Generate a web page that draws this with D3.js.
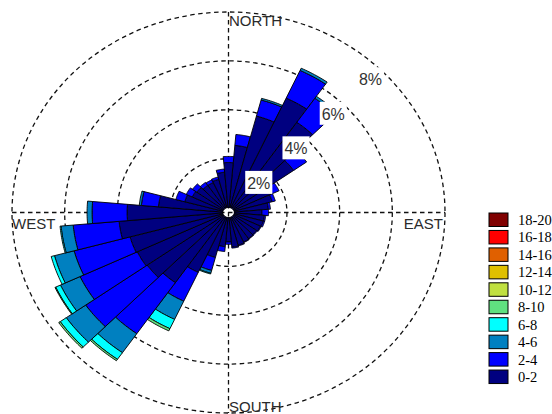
<!DOCTYPE html>
<html>
<head>
<meta charset="utf-8">
<script src="https://cdn.jsdelivr.net/npm/d3@7"></script>
<style>
  html, body { margin: 0; padding: 0; background: #fff; }
  svg { display: block; }
</style>
</head>
<body>
<svg id="rose" width="552" height="414"></svg>
<script>
// Wind direction bins (degrees, 10° sectors) and frequency (%) per speed band
const directions = [10, 20, 30, 40, 50, 60, 70, 80, 90, 100, 110, 120, 130, 140, 150, 160, 170, 180,
                    190, 200, 210, 220, 230, 240, 250, 260, 270, 280, 290, 300, 310, 320, 330, 340, 350, 360];

const freq0_2 = [2.55, 3.88, 4.96, 4.30, 2.80, 1.60, 1.50, 1.30, 1.05, 1.15, 1.15, 1.12, 1.08, 1.10, 1.13, 1.18, 1.22, 1.00,
                 1.20, 1.70, 2.50, 3.30, 3.55, 3.60, 3.65, 3.95, 3.63, 2.45, 1.50, 1.30, 1.25, 1.15, 1.15, 1.20, 1.45, 1.84];
const freq2_4 = [0.45, 0.68, 1.25, 1.20, 0.60, 0.30, 0.12, 0.08, 0.25, 0.05, 0.05, 0.03, 0.03, 0.02, 0.02, 0.03, 0.04, 0.10,
                 0.20, 0.55, 1.30, 2.55, 2.85, 2.40, 2.20, 1.75, 1.33, 0.65, 0.35, 0.25, 0.20, 0.15, 0.12, 0.10, 0.13, 0.25];
const freq4_6 = [0, 0.07, 0.10, 0.10, 0, 0, 0, 0, 0, 0, 0, 0, 0, 0, 0, 0, 0, 0,
                 0, 0.12, 0.82, 0.95, 0.90, 0.82, 0.77, 0.46, 0.19, 0.08, 0, 0, 0, 0, 0, 0, 0, 0];
const freq6_8 = [0, 0, 0, 0, 0, 0, 0, 0, 0, 0, 0, 0, 0, 0, 0, 0, 0, 0,
                 0, 0.03, 0.42, 0.33, 0.28, 0.20, 0.13, 0.04, 0, 0, 0, 0, 0, 0, 0, 0, 0, 0];
const freq8_10 = [0, 0, 0, 0, 0, 0, 0, 0, 0, 0, 0, 0, 0, 0, 0, 0, 0, 0,
                  0, 0, 0.10, 0.07, 0.07, 0.03, 0, 0, 0, 0, 0, 0, 0, 0, 0, 0, 0, 0];

// Speed bands (m/s) with their fill colours, lowest first
const speedBins = ["0-2", "2-4", "4-6", "6-8", "8-10", "10-12", "12-14", "14-16", "16-18", "18-20"];
const binColors = ["#000080", "#0000ff", "#0080c0", "#00ffff", "#60e080",
                   "#c0e040", "#e0c000", "#e06000", "#ff0000", "#800000"];

const pctTicks = [2, 4, 6, 8];
const compass = ["NORTH", "EAST", "SOUTH", "WEST"];

// ---------------------------------------------------------------
const svg = d3.select("#rose");
const cx = 228.5, cy = 212.5;
const rMax = 8;
// plot area is slightly wider than tall, so radial scales differ per axis
const sx = d3.scaleLinear().domain([0, rMax]).range([5.8, 216.5]);
const sy = d3.scaleLinear().domain([0, rMax]).range([5.0, 200.5]);
const rad = d => d * Math.PI / 180;
const pt = (r, a) => [cx + sx(r) * Math.sin(a), cy - sy(r) * Math.cos(a)];

// grid
const grid = svg.append("g")
  .attr("fill", "none").attr("stroke", "#111").attr("stroke-width", 1.3)
  .attr("stroke-dasharray", "4.5,3.5");
grid.selectAll("ellipse").data(pctTicks).join("ellipse")
  .attr("cx", cx).attr("cy", cy)
  .attr("rx", d => sx(d)).attr("ry", d => sy(d));
grid.append("line").attr("x1", cx - sx(rMax)).attr("x2", cx + sx(rMax)).attr("y1", cy).attr("y2", cy);
grid.append("line").attr("x1", cx).attr("x2", cx).attr("y1", cy - sy(rMax)).attr("y2", cy + sy(rMax));

// stacked petals
const series = [freq0_2, freq2_4, freq4_6, freq6_8, freq8_10];
const petals = [];
directions.forEach((dir, i) => {
  let acc = 0;
  series.forEach((s, k) => {
    const v = s[i];
    if (v > 0) petals.push({ dir, r0: acc, r1: acc + v, color: binColors[k] });
    acc += v;
  });
});

const half = 5;
function wedgePath(d) {
  const a0 = rad(d.dir - half), a1 = rad(d.dir + half), n = 12;
  const pts = [];
  for (let j = 0; j <= n; j++) pts.push(pt(d.r1, a0 + (a1 - a0) * j / n));
  for (let j = n; j >= 0; j--) pts.push(pt(d.r0, a0 + (a1 - a0) * j / n));
  return d3.line()(pts) + "Z";
}

svg.append("g").selectAll("path").data(petals).join("path")
  .attr("d", wedgePath)
  .attr("fill", d => d.color)
  .attr("stroke", "#000").attr("stroke-width", 0.9)
  .attr("stroke-linejoin", "miter");

// percentage labels along the 45° line
const pctG = svg.append("g");
pctTicks.forEach(t => {
  const [px, py] = pt(t, rad(45));
  const g = pctG.append("g");
  const txt = g.append("text")
    .attr("x", px + 0.5).attr("y", py + 14.5)
    .attr("text-anchor", "end")
    .attr("font-family", "Liberation Sans, Arial, sans-serif")
    .attr("font-size", 16).attr("fill", "#333")
    .text(t + "%");
  const bb = txt.node().getBBox();
  g.insert("rect", "text")
    .attr("x", bb.x - 2).attr("width", bb.width + 4)
    .attr("y", py + 14.5 - 18).attr("height", 23)
    .attr("fill", "#fff");
});

// compass labels
const labFont = "Liberation Sans, Arial, sans-serif";
const lab = svg.append("g").attr("font-family", labFont).attr("font-size", 15).attr("fill", "#2a2a2a");
lab.append("text").attr("x", cx + 0.5).attr("y", cy - sy(rMax) + 14).text(compass[0]);
lab.append("text").attr("x", cx + sx(rMax) - 2).attr("y", cy + 16).attr("text-anchor", "end").text(compass[1]);
lab.append("text").attr("x", cx + 0.5).attr("y", cy + sy(rMax) - 1.5).text(compass[2]);
lab.append("text").attr("x", cx - sx(rMax)).attr("y", cy + 16).text(compass[3]);

// legend, highest band on top
const legend = svg.append("g");
const legItems = speedBins.map((s, k) => ({ label: s, color: binColors[k] })).reverse();
const legTop = 213, legStep = 17.45;
const li = legend.selectAll("g").data(legItems).join("g")
  .attr("transform", (d, j) => `translate(489,${legTop + j * legStep})`);
li.append("rect")
  .attr("width", 19).attr("height", 13.5)
  .attr("fill", d => d.color).attr("stroke", "#000").attr("stroke-width", 1);
li.append("text")
  .attr("x", 29).attr("y", 12)
  .attr("font-family", "Liberation Serif, Times New Roman, serif")
  .attr("font-size", 14.5).attr("fill", "#000")
  .text(d => d.label);
</script>
</body>
</html>
